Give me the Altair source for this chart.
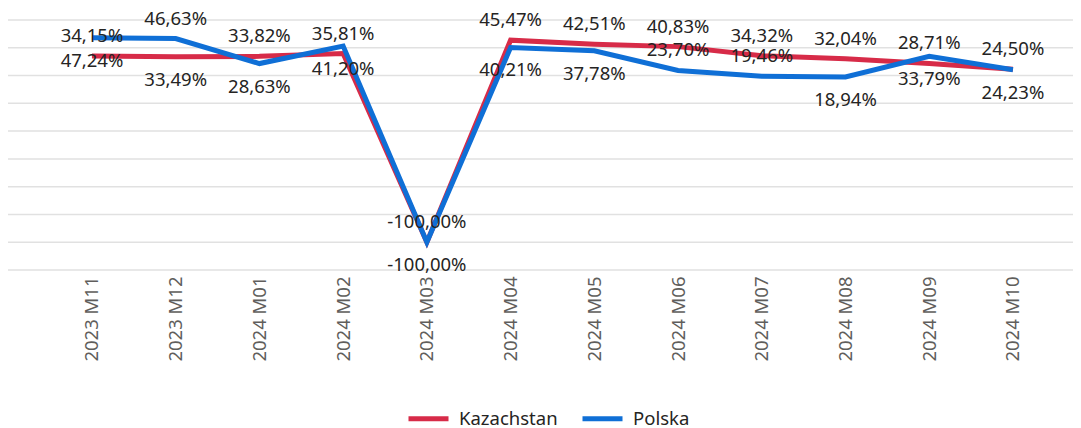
import altair as alt
import pandas as pd

months = ["2023 M11", "2023 M12", "2024 M01", "2024 M02", "2024 M03", "2024 M04",
          "2024 M05", "2024 M06", "2024 M07", "2024 M08", "2024 M09", "2024 M10"]
kazachstan = [34.15, 33.49, 33.82, 35.81, -100.00, 45.47, 42.51, 40.83, 34.32, 32.04, 28.71, 24.50]
polska = [47.24, 46.63, 28.63, 41.20, -100.00, 40.21, 37.78, 23.70, 19.46, 18.94, 33.79, 24.23]
# label placement relative to own point (as in the reference)
kaz_label_side = ["above", "below", "above", "above", "above", "above",
                  "above", "above", "above", "above", "above", "above"]
pol_label_side = ["below", "above", "below", "below", "below", "below",
                  "below", "above", "above", "below", "below", "below"]
y_ticks = [-120, -100, -80, -60, -40, -20, 0, 20, 40, 60]

rows = []
for name, vals, sides in [("Kazachstan", kazachstan, kaz_label_side),
                          ("Polska", polska, pol_label_side)]:
    for m, v, s in zip(months, vals, sides):
        rows.append({"month": m, "series": name, "value": v,
                     "label": f"{v:.2f}".replace(".", ",") + "%", "side": s})
df = pd.DataFrame(rows)
grid_df = pd.DataFrame({"tick": y_ticks})

FONT = "Segoe UI, Noto Sans, Open Sans, sans-serif"
Y_SCALE = alt.Scale(domain=[-120, 60], nice=False, zero=False)

x_enc = alt.X("month:N", sort=months,
              scale=alt.Scale(type="point", padding=0.86, align=0.583),
              axis=alt.Axis(title=None, labelAngle=270, labelFontSize=18.5,
                            labelColor="#605E5C", labelFont=FONT, ticks=False,
                            domain=False, labelPadding=6, grid=False))
y_enc = alt.Y("value:Q", scale=Y_SCALE, axis=None)

color = alt.Color("series:N",
                  scale=alt.Scale(domain=["Kazachstan", "Polska"],
                                  range=["#D72B48", "#0F6FD6"]),
                  legend=alt.Legend(title=None, orient="none", legendX=398, legendY=376,
                                    direction="horizontal", symbolType="stroke",
                                    symbolStrokeWidth=5, symbolSize=1600,
                                    labelFontSize=18.5, labelFont=FONT,
                                    labelColor="#252423", labelOffset=8,
                                    columnPadding=14))

grid = alt.Chart(grid_df).mark_rule(color="#E1E1E1", strokeWidth=1.5).encode(
    y=alt.Y("tick:Q", scale=Y_SCALE, axis=None)
)

base = alt.Chart(df)

lines = base.mark_line(strokeWidth=5).encode(x=x_enc, y=y_enc, color=color)

text_above = base.transform_filter(alt.datum.side == "above").mark_text(
    dy=-20, fontSize=18.5, font=FONT, color="#252423", baseline="middle"
).encode(x=alt.X("month:N", sort=months), y="value:Q", text="label:N")

text_below = base.transform_filter(alt.datum.side == "below").mark_text(
    dy=23, fontSize=18.5, font=FONT, color="#252423", baseline="middle"
).encode(x=alt.X("month:N", sort=months), y="value:Q", text="label:N")

chart = alt.layer(grid, lines, text_above, text_below).properties(
    width=1065, height=250,
    autosize=alt.AutoSizeParams(type="none"),
    padding={"left": 0, "top": 12, "right": 0, "bottom": 156},
).configure_view(stroke=None)

chart.save("out.html", embed_options={"renderer": "svg", "actions": False})
